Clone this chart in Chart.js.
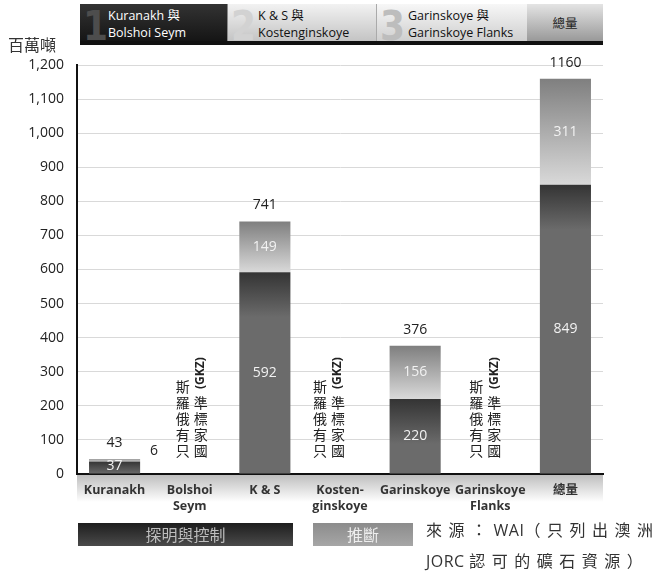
<!DOCTYPE html>
<html>
<head>
<meta charset="utf-8">
<script src="https://cdn.jsdelivr.net/npm/chart.js@4.4.1/dist/chart.umd.min.js"></script>
<style>
  body { margin: 0; background: #fff; font-family: "Open Sans", "Noto Sans CJK TC", sans-serif; }
  #wrap { position: relative; width: 665px; height: 571px; overflow: hidden; }
  #chart { position: absolute; left: 0; top: 0; }
  .seg { position: absolute; top: 4px; height: 37px; overflow: hidden; }
  .num { position: absolute; left: 3px; top: -1px; line-height: 1; font: bold 40px "DejaVu Sans Condensed", "Liberation Sans Narrow", sans-serif; }
  .txt { position: absolute; top: 3px; font-size: 12.5px; line-height: 17px; white-space: nowrap; }
  #unit { position: absolute; left: 8px; top: 32px; font-size: 16px; color: #333; font-family: "Noto Sans CJK TC", sans-serif; }
  .key { position: absolute; top: 523px; height: 23px; line-height: 23px; text-align: center;
         font-size: 16px; font-family: "Noto Sans CJK TC", sans-serif; }
  #src { position: absolute; left: 426px; top: 514px; font-size: 16px; line-height: 30px; color: #333;
         letter-spacing: 6.5px; font-family: "Noto Sans CJK TC", sans-serif; white-space: nowrap; }
  #src .lat { letter-spacing: 0.5px; font-family: "Open Sans", sans-serif; }
</style>
</head>
<body>
<div id="wrap">
  <canvas id="chart" width="665" height="571"></canvas>

  <div class="seg" style="left:80px;width:147px;background:linear-gradient(#333,#151515);">
    <span class="num" style="color:#4d4d4d">1</span>
    <span class="txt" style="left:28px;color:#fff">Kuranakh 與<br>Bolshoi Seym</span>
  </div>
  <div class="seg" style="left:227px;width:149px;background:linear-gradient(#f2f2f2,#c4c4c4);border-left:1px solid #888;">
    <span class="num" style="color:#d2d2d2">2</span>
    <span class="txt" style="left:30px;color:#111">K &amp; S 與<br>Kostenginskoye</span>
  </div>
  <div class="seg" style="left:376px;width:151px;background:linear-gradient(#f7f7f7,#cfcfcf);border-left:1px solid #aaa;">
    <span class="num" style="color:#bdbdbd">3</span>
    <span class="txt" style="left:31px;color:#111">Garinskoye 與<br>Garinskoye Flanks</span>
  </div>
  <div class="seg" style="left:527px;width:76px;background:linear-gradient(#e4e4e4,#999);">
    <span class="txt" style="left:0;width:76px;text-align:center;top:10px;color:#222;font-family:'Noto Sans CJK TC',sans-serif;">總量</span>
  </div>
  <div style="position:absolute;left:80px;top:41px;width:523px;height:4px;background:#111;"></div>

  <div id="unit">百萬噸</div>

  <div class="key" style="left:78px;width:215px;background:linear-gradient(#1e1e1e,#4a4a4a);color:#bdbdbd;">探明與控制</div>
  <div class="key" style="left:313px;width:100px;background:linear-gradient(#8c8c8c,#a6a6a6);color:#eee;">推斷</div>
  <div id="src">來源：<span class="lat">WAI</span>（只列出澳洲<br><span class="lat">JORC </span>認可的礦石資源）</div>
</div>

<script>
// categories (x axis), multi-line labels as arrays
const categories = ['Kuranakh', ['Bolshoi', 'Seym'], 'K & S', ['Kosten-', 'ginskoye'], 'Garinskoye', ['Garinskoye', 'Flanks'], '總量'];

// millions of tonnes
const measured = [37, null, 592, null, 220, null, 849];   // 探明與控制
const inferred = [6, null, 149, null, 156, null, 311];    // 推斷
const totals   = [43, null, 741, null, 376, null, 1160];

// categories without JORC figures
const gkzNote = ['只有俄羅斯', '國家標準 (GKZ)'];
const gkzIndexes = [1, 3, 5];
const gkzShift = { 1: -7, 3: -20, 5: -14 };

function segGradient(ctx, lower, upper, stops) {
  const chart = ctx.chart;
  if (!chart.chartArea) return stops[stops.length - 1][1];
  const i = ctx.dataIndex;
  const y = chart.scales.y;
  const lo = lower[i] || 0;
  const hi = lo + (upper[i] || 0);
  const top = y.getPixelForValue(hi);
  const bot = y.getPixelForValue(lo);
  const g = chart.ctx.createLinearGradient(0, top, 0, bot);
  stops.forEach(s => g.addColorStop(s[0], s[1]));
  return g;
}

const zeros = measured.map(() => 0);

const labelPlugin = {
  id: 'labels',
  beforeDraw(chart) {
    // grey band behind the category labels
    const { ctx, chartArea } = chart;
    const g = ctx.createLinearGradient(0, chartArea.bottom, 0, chartArea.bottom + 28);
    g.addColorStop(0, '#bcbcbc');
    g.addColorStop(1, '#ffffff');
    ctx.save();
    ctx.fillStyle = g;
    ctx.fillRect(chartArea.left, chartArea.bottom, chartArea.right - chartArea.left, 28);
    ctx.restore();
  },
  afterDraw(chart) {
    const { ctx } = chart;
    const y = chart.scales.y;
    const x = chart.scales.x;
    const m0 = chart.getDatasetMeta(0).data;
    ctx.save();
    ctx.textAlign = 'center';
    ctx.textBaseline = 'middle';
    ctx.font = '14px "Open Sans", sans-serif';

    measured.forEach((v, i) => {
      if (v == null) return;
      const bar = m0[i];
      const top = y.getPixelForValue(v);
      const bot = y.getPixelForValue(0);
      ctx.fillStyle = '#f2f2f2';
      ctx.fillText(String(v), bar.x, Math.min((top + bot) / 2, bot - 8));

      const w = inferred[i];
      const t2 = y.getPixelForValue(v + w);
      if (top - t2 >= 16) {
        ctx.fillStyle = '#f2f2f2';
        ctx.fillText(String(w), bar.x, (top + t2) / 2);
      } else {
        ctx.fillStyle = '#222';
        ctx.fillText(String(w), bar.x + bar.width / 2 + 14, t2 - 8);
      }

      ctx.fillStyle = '#222';
      ctx.fillText(String(totals[i]), bar.x, y.getPixelForValue(totals[i]) - 16);
    });

    // vertical GKZ notes: CJK glyphs upright, Latin run rotated
    gkzIndexes.forEach(i => {
      const cx = x.getPixelForValue(i) + gkzShift[i];
      gkzNote.forEach((line, col) => {
        const px = cx + col * 18;
        let py = y.getPixelForValue(0) - 23;
        const parts = line.match(/[\u3000-\u9fff]|[^\u3000-\u9fff]+/g);
        parts.forEach(p => {
          if (/[\u3000-\u9fff]/.test(p)) {
            ctx.font = '14px "Noto Sans CJK TC", sans-serif';
            ctx.fillStyle = '#222';
            ctx.fillText(p, px, py);
            py -= 16;
          } else {
            ctx.font = 'bold 12px "Open Sans", sans-serif';
            const txt = p.trim();
            const wd = ctx.measureText(txt).width;
            ctx.save();
            ctx.translate(px, py + 2 - wd / 2);
            ctx.rotate(-Math.PI / 2);
            ctx.fillStyle = '#222';
            ctx.fillText(txt, 0, 0);
            ctx.restore();
            py -= wd + 4;
          }
        });
      });
    });
    ctx.restore();
  }
};

new Chart(document.getElementById('chart'), {
  type: 'bar',
  data: {
    labels: categories,
    datasets: [
      {
        label: '探明與控制',
        data: measured,
        backgroundColor: ctx => segGradient(ctx, zeros, measured, [[0, '#343434'], [Math.min(1, 45 / Math.max(1, (measured[ctx.dataIndex] || 0) * 0.341)), '#6b6b6b'], [1, '#6b6b6b']]),
        borderWidth: 0,
        barPercentage: 0.68,
        categoryPercentage: 1
      },
      {
        label: '推斷',
        data: inferred,
        backgroundColor: ctx => segGradient(ctx, measured, inferred, [[0, '#7f7f7f'], [1, '#d9d9d9']]),
        borderWidth: 0,
        barPercentage: 0.68,
        categoryPercentage: 1
      }
    ]
  },
  options: {
    responsive: false,
    animation: false,
    locale: 'en-US',
    layout: { padding: { top: 65, right: 62, left: 0, bottom: 0 } },
    plugins: {
      legend: { display: false },
      tooltip: { enabled: false }
    },
    scales: {
      x: {
        stacked: true,
        grid: { display: false },
        border: { color: '#111', width: 2 },
        ticks: {
          color: '#333',
          padding: 0,
          font: { family: '"Open Sans", "Noto Sans CJK TC", sans-serif', size: 12.5, weight: 'bold', lineHeight: 1.3 },
          maxRotation: 0,
          autoSkip: false
        },
        afterFit(s) { s.height = 97; }
      },
      y: {
        stacked: true,
        min: 0,
        max: 1200,
        grid: { color: '#d9d9d9', drawTicks: false },
        border: { color: '#111', width: 2 },
        ticks: {
          stepSize: 100,
          padding: 13,
          color: '#222',
          font: { family: '"Open Sans", sans-serif', size: 14 }
        },
        afterFit(s) { s.width = 77; }
      }
    }
  },
  plugins: [labelPlugin]
});
</script>
</body>
</html>
